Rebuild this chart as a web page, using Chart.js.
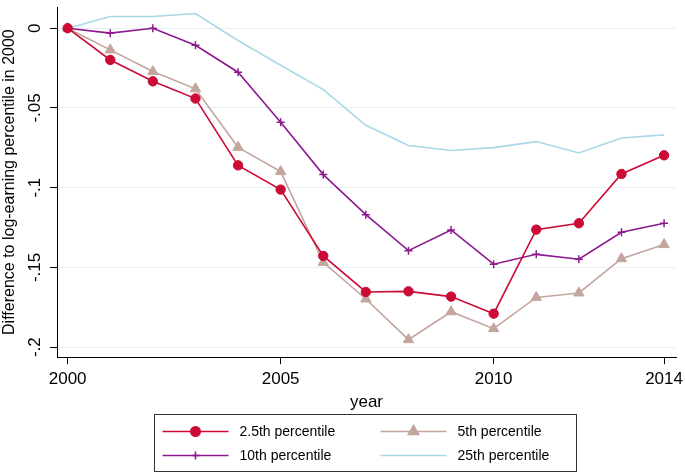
<!DOCTYPE html>
<html>
<head>
<meta charset="utf-8">
<script src="https://cdn.jsdelivr.net/npm/chart.js@4"></script>
<style>
  html, body { margin: 0; padding: 0; background: #fff; }
  #wrap { width: 685px; height: 473px; }
</style>
</head>
<body>
<div id="wrap"><canvas id="percentileChart" width="685" height="473"></canvas></div>
<script>
const years = [2000, 2001, 2002, 2003, 2004, 2005, 2006, 2007, 2008, 2009, 2010, 2011, 2012, 2013, 2014];
const p2_5 = [0, -0.0199, -0.0333, -0.0441, -0.086, -0.1012, -0.1428, -0.1654, -0.165, -0.1683, -0.179, -0.1263, -0.1223, -0.0914, -0.0797];
const p5 = [0, -0.0136, -0.0272, -0.038, -0.0747, -0.0899, -0.1468, -0.1698, -0.1953, -0.1778, -0.1884, -0.1688, -0.166, -0.1445, -0.1357];
const p10 = [0, -0.0031, 0, -0.0107, -0.0276, -0.059, -0.0918, -0.1169, -0.1395, -0.1265, -0.148, -0.1418, -0.1449, -0.128, -0.1223];
const p25 = [0, 0.0073, 0.0073, 0.0092, -0.0077, -0.0232, -0.0385, -0.0609, -0.0736, -0.0767, -0.0749, -0.0711, -0.0782, -0.0688, -0.0669];
const xTicks = [2000, 2005, 2010, 2014];
const yTicks = [0, -0.05, -0.1, -0.15, -0.2];

const FONT = "'Liberation Sans', Arial, sans-serif";
const toPoints = vals => vals.map((v, i) => ({ x: years[i], y: v }));

// legend drawn inside a box, 2 columns like the Stata graph
const boxLegend = {
    id: 'boxLegend',
    afterDraw(chart) {
        const ctx = chart.ctx;
        const bx = 154.5, by = 414.5, bw = 422, bh = 57;
        ctx.save();
        ctx.strokeStyle = '#333';
        ctx.lineWidth = 1;
        ctx.strokeRect(bx, by, bw, bh);
        ctx.font = '14px ' + FONT;
        ctx.textBaseline = 'middle';
        chart.data.datasets.forEach((ds, i) => {
            const col = i % 2, row = Math.floor(i / 2);
            const x0 = bx + 8 + col * 218;
            const y0 = by + 17 + row * 24;
            ctx.strokeStyle = ds.borderColor;
            ctx.fillStyle = ds.borderColor;
            ctx.lineWidth = ds.borderWidth;
            ctx.beginPath();
            ctx.moveTo(x0, y0);
            ctx.lineTo(x0 + 66, y0);
            ctx.stroke();
            if (ds.pointRadius > 0) {
                Chart.helpers.drawPoint(ctx, {
                    pointStyle: ds.pointStyle,
                    radius: ds.pointRadius,
                    borderWidth: ds.pointBorderWidth || 1
                }, x0 + 33, y0);
            }
            ctx.fillStyle = '#000';
            ctx.fillText(ds.label, x0 + 77, y0 + 1);
        });
        ctx.restore();
    }
};

function makeSet(label, vals, color, style, radius) {
    return {
        label: label,
        data: toPoints(vals),
        borderColor: color,
        backgroundColor: color,
        pointBackgroundColor: color,
        pointBorderColor: color,
        borderWidth: 1.6,
        pointStyle: style,
        pointRadius: radius,
        pointBorderWidth: style === 'cross' ? 1.5 : 1,
        tension: 0
    };
}

new Chart(document.getElementById('percentileChart'), {
    type: 'line',
    data: {
        datasets: [
            makeSet('2.5th percentile', p2_5, '#cc0a36', 'circle', 4.7),
            makeSet('5th percentile', p5, '#c3a59e', 'triangle', 6),
            makeSet('10th percentile', p10, '#8c1a8f', 'cross', 4),
            makeSet('25th percentile', p25, '#a9d8e6', 'circle', 0)
        ]
    },
    options: {
        responsive: false,
        animation: false,
        layout: { padding: { top: 2, right: 9, bottom: 60, left: 0 } },
        plugins: { legend: { display: false }, tooltip: { enabled: false } },
        scales: {
            x: {
                type: 'linear',
                min: 1999.75,
                max: 2014.28,
                afterBuildTicks: axis => { axis.ticks = xTicks.map(v => ({ value: v })); },
                afterFit: axis => { axis.paddingRight = 0; },
                ticks: {
                    font: { family: FONT, size: 17 },
                    color: '#000',
                    padding: 5,
                    maxRotation: 0,
                    callback: v => String(v)
                },
                grid: { drawOnChartArea: false, drawTicks: true, tickLength: 7, tickColor: '#000' },
                border: { color: '#000', width: 1 },
                title: { display: true, text: 'year', font: { family: FONT, size: 17 }, color: '#000', padding: { top: -2, bottom: 0 } }
            },
            y: {
                min: -0.2063,
                max: 0.0133,
                afterBuildTicks: axis => { axis.ticks = yTicks.map(v => ({ value: v })); },
                afterFit: axis => {
                    axis.width = 57;
                    axis.paddingTop = 0;
                    axis.paddingBottom = 0;
                },
                ticks: {
                    font: { family: FONT, size: 17 },
                    color: '#000',
                    minRotation: 90,
                    maxRotation: 90,
                    crossAlign: 'center',
                    padding: 0,
                    callback: v => v === 0 ? '0' : String(Number(v.toFixed(2))).replace('0.', '.')
                },
                grid: { color: '#e6eff2', lineWidth: 1, tickLength: 7, tickColor: '#000' },
                border: { color: '#000', width: 1 },
                title: { display: true, text: 'Difference to log-earning percentile in 2000', font: { family: FONT, size: 16 }, color: '#000', padding: { top: 0, bottom: 2 } }
            }
        }
    },
    plugins: [boxLegend]
});
</script>
</body>
</html>
